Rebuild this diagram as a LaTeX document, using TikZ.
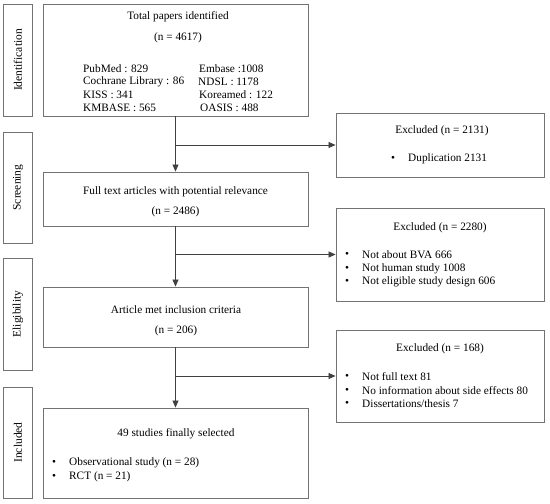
\documentclass[tikz,border=0pt]{standalone}
\usepackage{fontspec}
\setmainfont{Liberation Serif}
\usetikzlibrary{arrows.meta}
\begin{document}
\begin{tikzpicture}[x=1pt,y=-1pt,
  box/.style={draw=black!55,line width=0.9pt,inner sep=0pt},
  arr/.style={draw=black!75,line width=0.8pt,-{Triangle[length=7pt,width=6pt]}},
  txt/.style={inner sep=0pt,font=\fontsize{11.3}{13}\selectfont},
  lt/.style={txt,anchor=west},
  side/.style={txt,rotate=90,font=\fontsize{11.5}{13}\selectfont}]
\useasboundingbox (0,0) rectangle (550,504);
% side boxes
\node[box,minimum width=29pt,minimum height=112pt] (sid) at (18,60) {};
\node[box,minimum width=29pt,minimum height=111pt] (ssc) at (18,187.5) {};
\node[box,minimum width=29pt,minimum height=112pt] (sel) at (18,314) {};
\node[box,minimum width=29pt,minimum height=111pt] (sin) at (18,442.5) {};
\node[side] (lid) at (sid.center) {Identification};
\node[side] (lsc) at (ssc.center) {Screening};
\node[side] (lel) at (sel.center) {Eligibility};
\node[side] (lin) at (sin.center) {Included};
% main boxes
\node[box,minimum width=265pt,minimum height=112pt] (tot) at (175.5,60) {};
\node[box,minimum width=265pt,minimum height=54pt] (full) at (175.5,199) {};
\node[box,minimum width=265pt,minimum height=60pt] (art) at (175.5,317) {};
\node[box,minimum width=265pt,minimum height=90pt] (inc) at (175.5,453) {};
% excluded boxes
\node[box,minimum width=208pt,minimum height=64pt] (ex1) at (440,145) {};
\node[box,minimum width=208pt,minimum height=93pt] (ex2) at (440,254.5) {};
\node[box,minimum width=208pt,minimum height=92pt] (ex3) at (440,376) {};
% texts main
\node[txt] (a1) at (178,17) {Total papers identified};
\node[txt] (a2) at (178,38) {(n = 4617)};
\node[lt] (b1) at (83,69) {PubMed : 829};
\node[lt] (b2) at (83,82) {Cochrane Library : 86};
\node[lt] (b3) at (83,95) {KISS : 341};
\node[lt] (b4) at (83,108) {KMBASE : 565};
\node[lt] (c1) at (199,69) {Embase :1008};
\node[lt] (c2) at (198,82) {NDSL : 1178};
\node[lt] (c3) at (199,95) {Koreamed : 122};
\node[lt] (c4) at (200,108) {OASIS : 488};
\node[txt] (d1) at (175.5,192) {Full text articles with potential relevance};
\node[txt] (d2) at (175.5,212) {(n = 2486)};
\node[txt] (e1) at (176,310) {Article met inclusion criteria};
\node[txt] (e2) at (176,331) {(n = 206)};
\node[txt] (f1) at (176,434) {49 studies finally selected};
\node[lt] (f2) at (52,463) {•};
\node[lt] (f3) at (69,463) {Observational study (n = 28)};
\node[lt] (f4) at (52,477) {•};
\node[lt] (f5) at (69,477) {RCT (n = 21)};
% texts excluded
\node[txt] (g1) at (442,131) {Excluded (n = 2131)};
\node[lt] (g2) at (391,159) {•};
\node[lt] (g3) at (408,159) {Duplication 2131};
\node[txt] (h1) at (440,228) {Excluded (n = 2280)};
\node[lt] (h2) at (345,255) {•};
\node[lt] (h3) at (362,255) {Not about BVA 666};
\node[lt] (h4) at (345,268.5) {•};
\node[lt] (h5) at (362,268.5) {Not human study 1008};
\node[lt] (h6) at (345,282) {•};
\node[lt] (h7) at (362,282) {Not eligible study design 606};
\node[txt] (i1) at (440,349) {Excluded (n = 168)};
\node[lt] (i2) at (345,377) {•};
\node[lt] (i3) at (362,377) {Not full text 81};
\node[lt] (i4) at (345,390.5) {•};
\node[lt] (i5) at (362,390.5) {No information about side effects 80};
\node[lt] (i6) at (345,404) {•};
\node[lt] (i7) at (362,404) {Dissertations/thesis 7};
% connectors
\draw[arr] (tot.south) -- (full.north);
\draw[arr] (tot.south |- ex1.west) -- (ex1.west);
\draw[arr] (full.south) -- (art.north);
\draw[arr] (full.south |- ex2.west) -- (ex2.west);
\draw[arr] (art.south) -- (inc.north);
\draw[arr] (art.south |- ex3.west) -- (ex3.west);
\end{tikzpicture}
\end{document}
